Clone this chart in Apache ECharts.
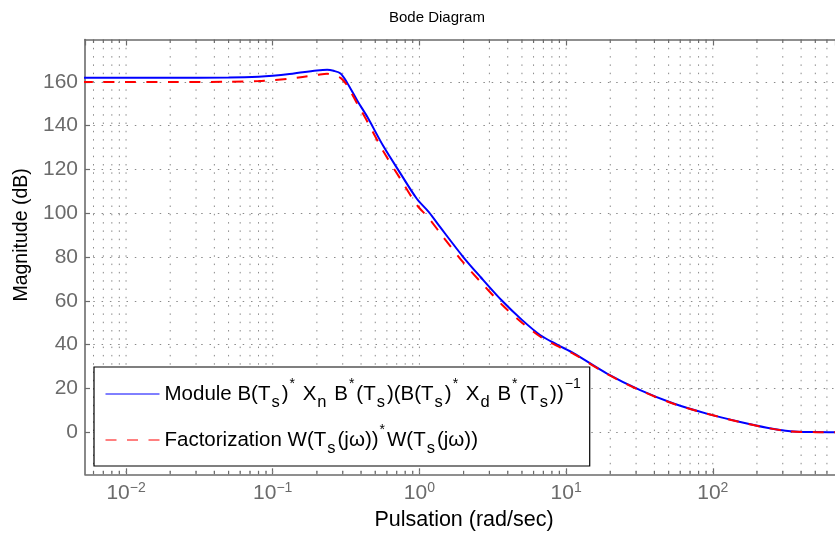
<!DOCTYPE html>
<html><head><meta charset="utf-8">
<script src="https://cdn.jsdelivr.net/npm/echarts@6/dist/echarts.min.js"></script>
<style>html,body{margin:0;padding:0;background:#fff}#c{width:835px;height:540px}</style>
</head><body><div id="c"></div>
<script>
// ---- data ----
const omega = [0.005, 0.01, 0.02, 0.05, 0.08, 0.1, 0.13, 0.16, 0.2, 0.235, 0.26, 0.29, 0.32, 0.38, 0.44, 0.57, 0.74, 0.96, 1.16, 1.39, 1.99, 2.6, 3.66, 5.0, 6.68, 8.68, 11.3, 19, 32, 54, 91, 154, 234, 338, 500, 700];
const moduleDb = [161.8, 161.8, 161.8, 162.0, 162.3, 162.7, 163.5, 164.4, 165.2, 165.5, 165.0, 163.8, 159.8, 151.0, 144.1, 130.4, 118.3, 106.6, 100.5, 93.5, 80.0, 71.0, 60.0, 51.3, 44.3, 40.0, 36.0, 26.8, 19.2, 13.1, 8.5, 4.7, 2.1, 0.5, 0.1, 0.0];
const factorDb = [159.9, 159.9, 159.9, 160.0, 160.3, 160.7, 161.4, 162.2, 163.1, 163.7, 162.8, 161.8, 158.6, 149.5, 142.0, 128.0, 115.8, 103.8, 97.7, 90.8, 77.5, 68.8, 58.2, 50.0, 43.6, 39.4, 35.7, 26.6, 19.1, 13.0, 8.5, 4.6, 2.0, 0.4, 0.05, 0.0];
const xMajorTicks = [0.01, 0.1, 1, 10, 100];
const xMajorExponents = ['\u22122', '\u22121', '0', '1', '2'];
const xMinorTicks = [0.006, 0.007, 0.008, 0.009,
  0.02, 0.03, 0.04, 0.05, 0.06, 0.07, 0.08, 0.09,
  0.2, 0.3, 0.4, 0.5, 0.6, 0.7, 0.8, 0.9,
  2, 3, 4, 5, 6, 7, 8, 9,
  20, 30, 40, 50, 60, 70, 80, 90,
  200, 300, 400, 500, 600];
const yTicks = [0, 20, 40, 60, 80, 100, 120, 140, 160];
const seriesNames = ['Module', 'Factorization'];
const legendLabels = {
  'Module': 'Module B(T{s|s}){p|*} X{s|n} B{p|*}(T{s|s})(B(T{s|s}){p|*} X{s|d} B{p|*}(T{s|s})){p|\u22121}',
  'Factorization': 'Factorization W(T{s|s}(j\u03c9)){p|*}W(T{s|s}(j\u03c9))'
};

// ---- styling ----
const FONT = '"Liberation Sans", Arial, Helvetica, sans-serif';
const AX = '#6b6b6b';
const GRIDC = '#8a8a8a';
const DOT = [1.5, 6.8];
const X_MIN = 0.00525, X_MAX = 681, Y_MIN = -19.2, Y_MAX = 179.3;

function xLabel(value) {
  for (let i = 0; i < xMajorTicks.length; i++) {
    if (Math.abs(Math.log10(value) - Math.log10(xMajorTicks[i])) < 1e-6) {
      return '{b|10}{e|' + xMajorExponents[i] + '}';
    }
  }
  return '';
}
const xRich = {
  b: { fontSize: 21, lineHeight: 24, color: AX, fontFamily: FONT },
  e: { fontSize: 14, lineHeight: 17, verticalAlign: 'top', color: AX, fontFamily: FONT }
};

const chart = echarts.init(document.getElementById('c'), null, { renderer: 'canvas' });
const option = {
  animation: false,
  backgroundColor: '#fff',
  title: {
    text: 'Bode Diagram', left: 389, top: 10, padding: 0,
    textStyle: { fontSize: 15, fontWeight: 'normal', color: '#000', fontFamily: FONT }
  },
  grid: { left: 85, right: 0, top: 39.5, bottom: 65.7, containLabel: false },
  xAxis: [
    {
      type: 'log', logBase: 10, min: X_MIN, max: X_MAX, position: 'bottom',
      axisLine: { show: true, onZero: false, lineStyle: { color: AX, width: 1.6 } },
      axisTick: { show: true, inside: true, length: 6, lineStyle: { color: AX, width: 1.2 } },
      axisLabel: { show: true, margin: 7, showMinLabel: false, showMaxLabel: false, formatter: xLabel, rich: xRich, color: AX },
      splitLine: { show: false }, minorTick: { show: false }, minorSplitLine: { show: false },
      name: 'Pulsation (rad/sec)', nameLocation: 'middle', nameGap: 31,
      nameTextStyle: { fontSize: 21.5, color: '#000', fontFamily: FONT, padding: [0, 0, 0, 8] }
    },
    {
      type: 'log', logBase: 10, min: X_MIN, max: X_MAX, position: 'top',
      axisLine: { show: true, onZero: false, lineStyle: { color: AX, width: 1.6 } },
      axisTick: { show: true, inside: true, length: 6, lineStyle: { color: AX, width: 1.2 } },
      axisLabel: { show: false },
      splitLine: { show: false }
    }
  ],
  yAxis: [{
    type: 'value', min: Y_MIN, max: Y_MAX, position: 'left',
    axisLine: { show: true, onZero: false, lineStyle: { color: AX, width: 1.6 } },
    axisTick: { show: true, inside: true, length: 5, customValues: yTicks, lineStyle: { color: AX, width: 1.2 } },
    axisLabel: { show: true, customValues: yTicks, fontSize: 21, color: AX, margin: 7, fontFamily: FONT },
    splitLine: { show: true, lineStyle: { color: GRIDC, type: DOT, width: 1 } },
    name: 'Magnitude (dB)', nameLocation: 'middle', nameGap: 46, nameRotate: 90,
    nameTextStyle: { fontSize: 19.5, color: '#000', fontFamily: FONT, padding: [0, 0, 0, 44] }
  }],
  legend: {
    data: seriesNames, orient: 'vertical', left: 94, top: 367,
    padding: [10, 7, 9, 11], itemGap: 12, itemWidth: 54, itemHeight: 14,
    borderColor: '#000', borderWidth: 1.2, borderRadius: 0, backgroundColor: '#fff',
    selectedMode: false,
    formatter: function (name) { return legendLabels[name]; },
    itemStyle: { color: 'rgba(0,0,0,0)', borderWidth: 0, opacity: 0 },
    lineStyle: { width: 1 },
    textStyle: {
      fontSize: 20.5, lineHeight: 34, color: '#000', fontFamily: FONT,
      rich: {
        s: { fontSize: 16.5, lineHeight: 15, verticalAlign: 'bottom', color: '#000', fontFamily: FONT, padding: [0, 2, 0, 1] },
        p: { fontSize: 14, lineHeight: 16, verticalAlign: 'top', color: '#000', fontFamily: FONT, padding: [0, 2, 0, 1] }
      }
    }
  },
  series: [
    {
      type: 'custom', name: 'xgrid', silent: true, z: 1, clip: false, xAxisIndex: 0, yAxisIndex: 0,
      data: xMajorTicks.map(v => [v, 1]).concat(xMinorTicks.map(v => [v, 0])),
      encode: { x: 0, y: 1 },
      renderItem: function (params, api) {
        const cs = params.coordSys;
        const x = api.coord([api.value(0), Y_MIN])[0];
        const top = cs.y, bot = cs.y + cs.height;
        const children = [{
          type: 'line', shape: { x1: x, y1: top, x2: x, y2: bot },
          style: { stroke: GRIDC, lineWidth: 1, lineDash: DOT }
        }];
        if (!api.value(1)) {
          children.push({ type: 'line', shape: { x1: x, y1: bot, x2: x, y2: bot - 3.5 }, style: { stroke: AX, lineWidth: 1.2 } });
          children.push({ type: 'line', shape: { x1: x, y1: top, x2: x, y2: top + 3.5 }, style: { stroke: AX, lineWidth: 1.2 } });
        }
        return { type: 'group', children: children };
      }
    },
    {
      name: seriesNames[0], type: 'line', xAxisIndex: 0, yAxisIndex: 0,
      data: omega.map((w, i) => [w, moduleDb[i]]),
      symbol: 'none', showSymbol: false, smooth: 0.3, z: 3,
      lineStyle: { color: '#0000ff', width: 2 }, itemStyle: { color: '#0000ff' }
    },
    {
      name: seriesNames[1], type: 'line', xAxisIndex: 0, yAxisIndex: 0,
      data: omega.map((w, i) => [w, factorDb[i]]),
      symbol: 'none', showSymbol: false, smooth: 0.3, z: 4,
      lineStyle: { color: '#ff0000', width: 2, type: [11, 10.5] }, itemStyle: { color: '#ff0000' }
    }
  ]
};
chart.setOption(option);
</script>
</body></html>
